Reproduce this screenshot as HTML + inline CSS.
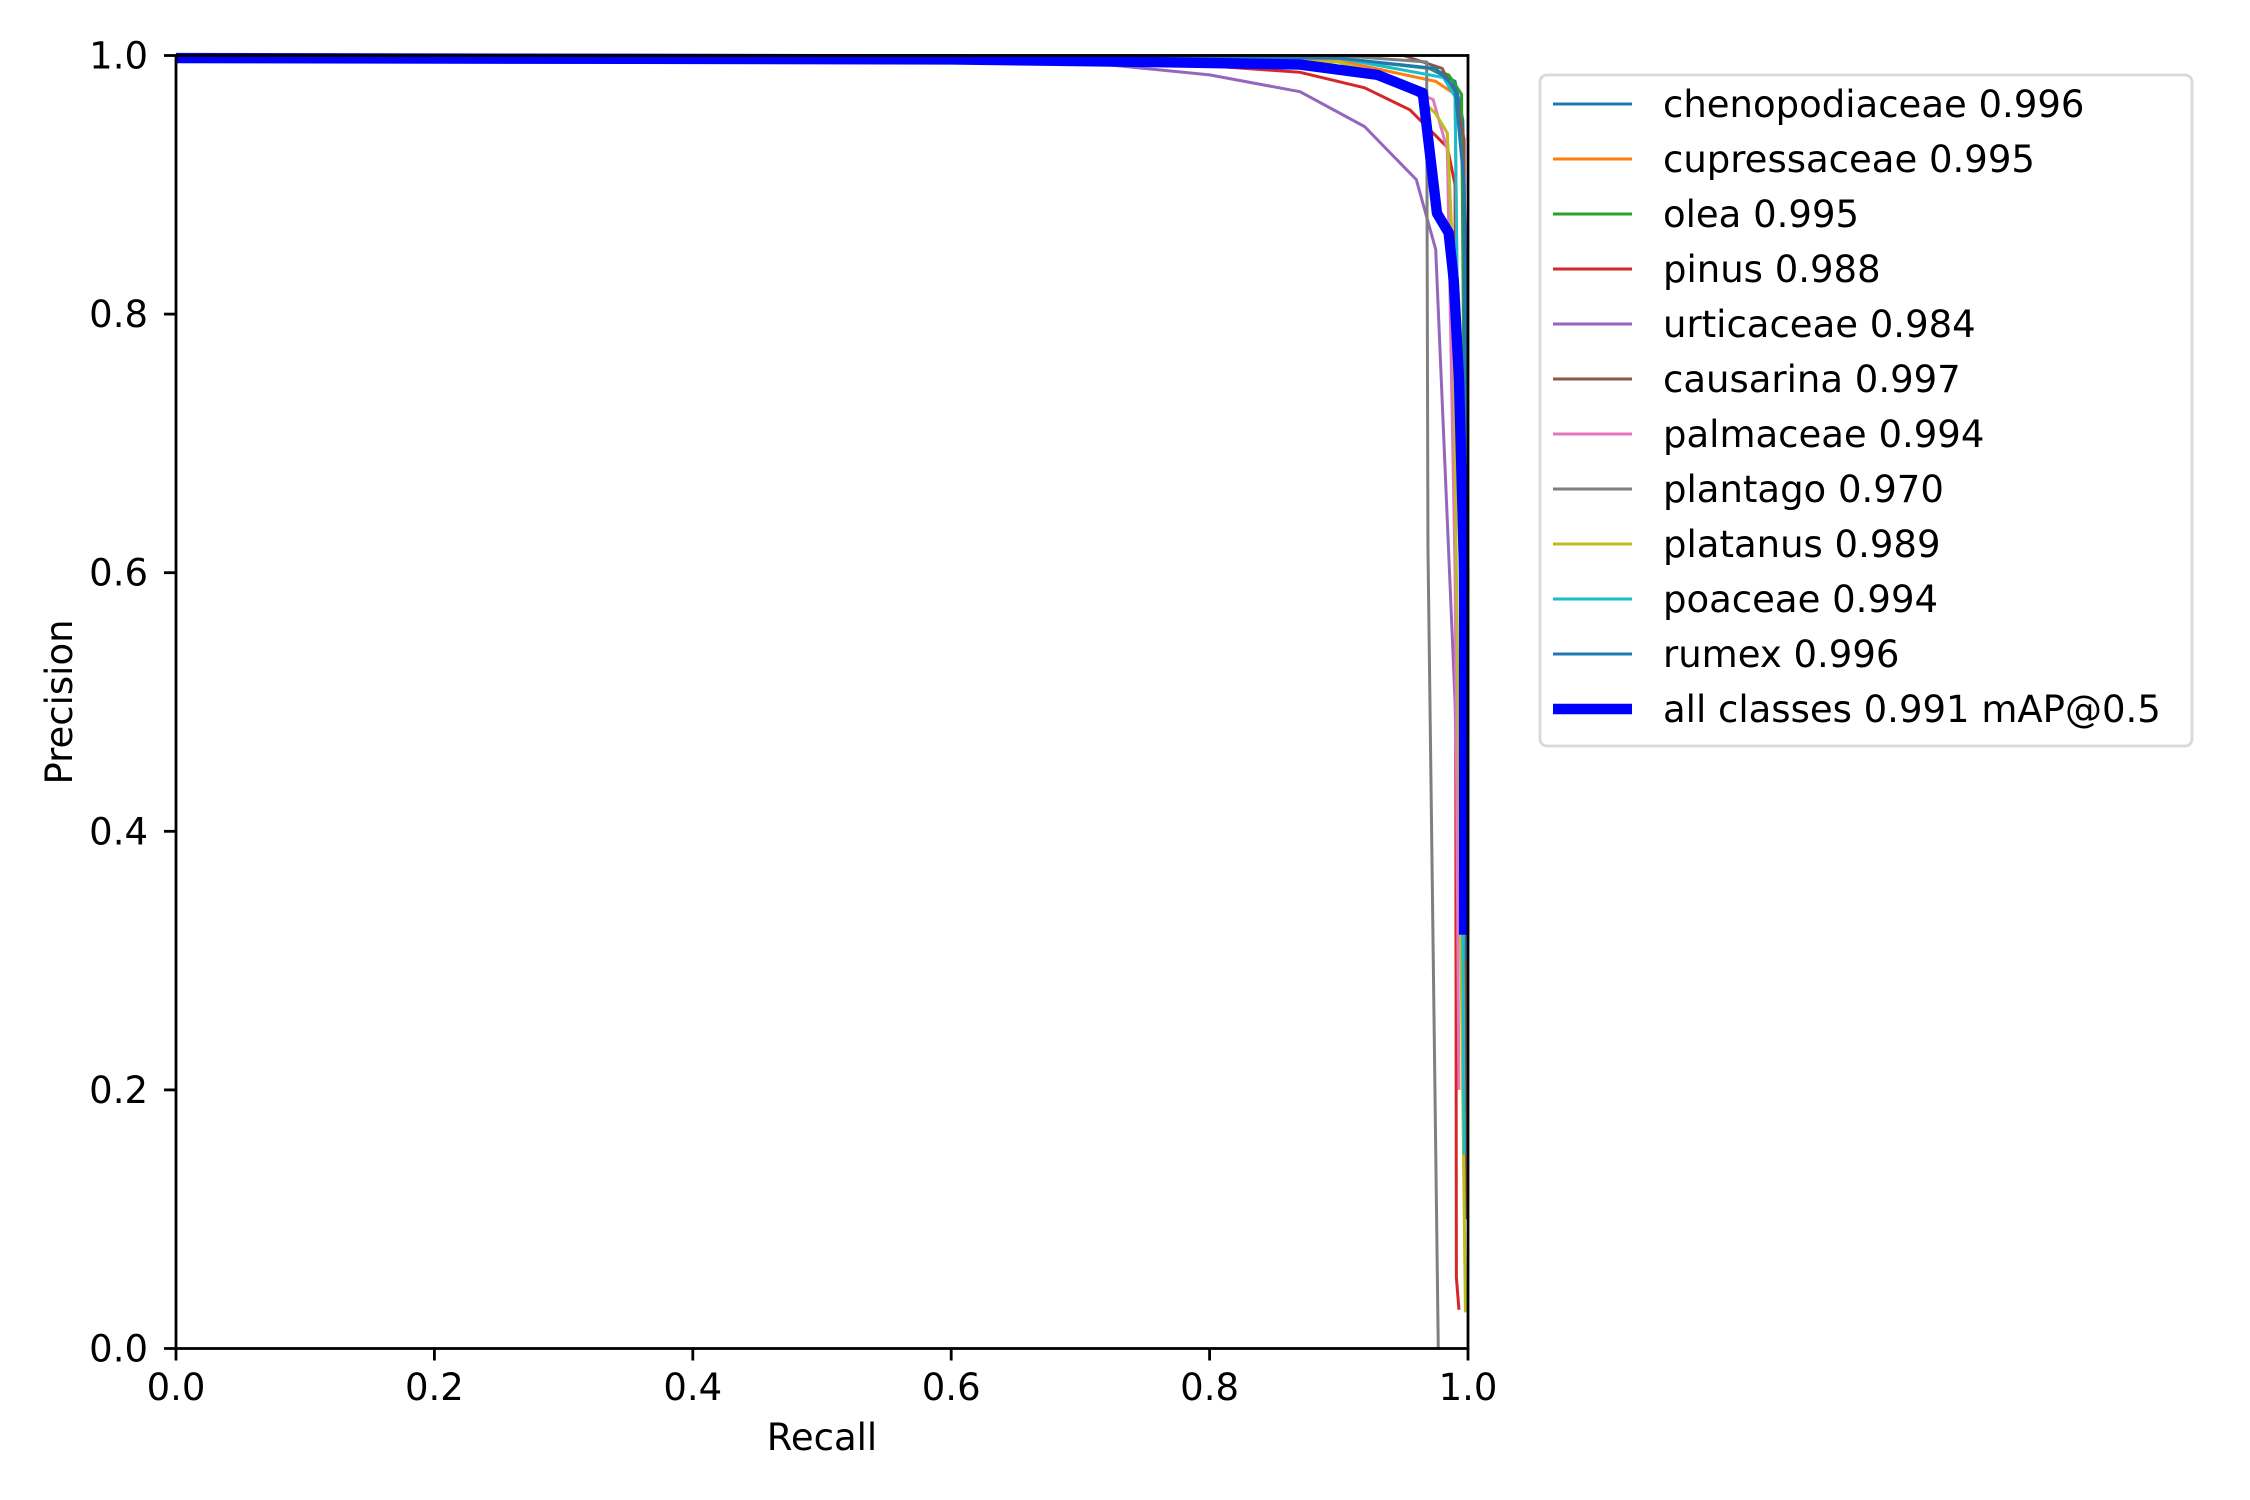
<!DOCTYPE html>
<html><head><meta charset="utf-8"><style>
html,body{margin:0;padding:0;background:#fff;}
svg{display:block;font-family:"DejaVu Sans","Liberation Sans",sans-serif;}
</style></head><body>
<svg id="chart" width="2250" height="1500" viewBox="0 0 2250 1500" xmlns="http://www.w3.org/2000/svg">
<rect width="2250" height="1500" fill="#fff"/>
<g id="series"></g>
<g id="axes"></g>
<g id="legend"></g>
</svg>
<script>
const classNames = ["chenopodiaceae","cupressaceae","olea","pinus","urticaceae","causarina","palmaceae","plantago","platanus","poaceae","rumex"];
const classAP = ["0.996","0.995","0.995","0.988","0.984","0.997","0.994","0.970","0.989","0.994","0.996"];
const classColors = ["#1f77b4","#ff7f0e","#2ca02c","#d62728","#9467bd","#8c564b","#e377c2","#7f7f7f","#bcbd22","#17becf","#1f77b4"];
const recChenopodiaceae = [0,0.6,0.9,0.97,0.99,0.996,0.999,0.999];
const preChenopodiaceae = [1,1,0.998,0.99,0.98,0.95,0.8,0.3];
const recCupressaceae = [0,0.6,0.9,0.975,0.99,0.995,0.996];
const preCupressaceae = [1,1,0.996,0.98,0.97,0.5,0.2];
const recOlea = [0,0.6,0.9,0.97,0.985,0.995,0.998,0.999];
const preOlea = [1,1,0.998,0.99,0.985,0.97,0.6,0.15];
const recPinus = [0,0.63,0.7,0.8,0.87,0.92,0.955,0.984,0.99,0.991,0.993];
const prePinus = [1,0.997,0.995,0.992,0.987,0.975,0.958,0.929,0.9,0.055,0.03];
const recUrticaceae = [0,0.6,0.7,0.8,0.87,0.92,0.96,0.975,0.99,0.995];
const preUrticaceae = [1,0.999,0.995,0.985,0.972,0.945,0.904,0.85,0.5,0.3];
const recCausarina = [0,0.6,0.95,0.98,0.99,0.997,0.998,0.999];
const preCausarina = [1,1,1,0.99,0.97,0.935,0.5,0.1];
const recPalmaceae = [0,0.6,0.9,0.973,0.984,0.99,0.993];
const prePalmaceae = [1,1,0.995,0.966,0.927,0.6,0.2];
const recPlantago = [0,0.6,0.9,0.968,0.969,0.977];
const prePlantago = [1,1,1,0.995,0.62,0];
const recPlatanus = [0,0.6,0.9,0.95,0.975,0.984,0.988,0.998];
const prePlatanus = [1,1,0.995,0.98,0.955,0.94,0.85,0.028];
const recPoaceae = [0,0.6,0.9,0.981,0.99,0.995,0.997];
const prePoaceae = [1,1,0.998,0.983,0.968,0.5,0.15];
const recRumex = [0,0.6,0.9,0.975,0.99,0.997,0.999];
const preRumex = [1,1,0.998,0.99,0.975,0.9,0.3];
const recAll = [0,0.6,0.75,0.87,0.93,0.965,0.969,0.976,0.985,0.989,0.993,0.997,0.997];
const preAll = [0.998,0.997,0.995,0.993,0.985,0.971,0.937,0.878,0.863,0.826,0.75,0.6,0.32];
const allLabel = "all classes 0.991 mAP@0.5";
const xTicks = [0,0.2,0.4,0.6,0.8,1.0];
const yTicks = [0,0.2,0.4,0.6,0.8,1.0];
const tickLabels = ["0.0","0.2","0.4","0.6","0.8","1.0"];

const recSeries = [recChenopodiaceae,recCupressaceae,recOlea,recPinus,recUrticaceae,recCausarina,recPalmaceae,recPlantago,recPlatanus,recPoaceae,recRumex];
const preSeries = [preChenopodiaceae,preCupressaceae,preOlea,prePinus,preUrticaceae,preCausarina,prePalmaceae,prePlantago,prePlatanus,prePoaceae,preRumex];

const L=176,R=1468,T=55.5,B=1348.5;
const FS=37;
function xs(v){return L+v*(R-L);}
function ys(v){return B-v*(B-T);}
const NS="http://www.w3.org/2000/svg";
function mk(tag,attrs,parent){const e=document.createElementNS(NS,tag);for(const k in attrs)e.setAttribute(k,attrs[k]);parent.appendChild(e);return e;}

const sg=document.getElementById('series');
function drawLine(rx,py,color,w,name){
  const d=rx.map((r,i)=>(i?'L':'M')+xs(r).toFixed(2)+','+ys(py[i]).toFixed(2)).join(' ');
  const p=mk('path',{d:d,fill:'none',stroke:color,'stroke-width':w,'stroke-linejoin':'round'},sg);
  
  
}
for(let i=0;i<classNames.length;i++){
  drawLine(recSeries[i],preSeries[i],classColors[i],3,'curve-'+classNames[i]);
}
drawLine(recAll,preAll,'#0000ff',10.4,'curve-all-classes');

const ax=document.getElementById('axes');
const frame=mk('rect',{x:L,y:T,width:R-L,height:B-T,fill:'none',stroke:'#000','stroke-width':2.8},ax);


xTicks.forEach((v,i)=>{
  const x=xs(v);
  const t=mk('line',{x1:x,y1:B,x2:x,y2:B+12,stroke:'#000','stroke-width':2.8},ax);
  
  
  const tx=mk('text',{x:x,y:1400,'font-size':FS,'text-anchor':'middle',fill:'#000'},ax);
  tx.textContent=tickLabels[i];
  
  
});
yTicks.forEach((v,i)=>{
  const y=ys(v);
  const t=mk('line',{x1:L-12,y1:y,x2:L,y2:y,stroke:'#000','stroke-width':2.8},ax);
  
  
  const tx=mk('text',{x:148,y:y+13,'font-size':FS,'text-anchor':'end',fill:'#000'},ax);
  tx.textContent=tickLabels[i];
  
  
});
const xl=mk('text',{x:(L+R)/2,y:1450,'font-size':FS,'text-anchor':'middle',fill:'#000'},ax);
xl.textContent='Recall';


const yl=mk('text',{x:0,y:0,'font-size':FS,'text-anchor':'middle',fill:'#000',transform:'translate(72,'+((T+B)/2)+') rotate(-90)'},ax);
yl.textContent='Precision';



const lg=document.getElementById('legend');
const box=mk('rect',{x:1540,y:75,width:652,height:671,rx:7,fill:'#fff','fill-opacity':0.8,stroke:'#d9d9d9','stroke-width':2.8},lg);


const labels=classNames.map((n,i)=>n+' '+classAP[i]).concat([allLabel]);
const colors=classColors.concat(['#0000ff']);
labels.forEach((lab,i)=>{
  const y=104+i*55;
  const g=mk('g',{},lg);
  
  
  mk('line',{x1:1553,y1:y,x2:1632,y2:y,stroke:colors[i],'stroke-width':i===11?10.4:3},g);
  const t=mk('text',{x:1663,y:y+13,'font-size':FS,fill:'#000'},g);
  t.textContent=lab;
});
</script>
</body></html>
